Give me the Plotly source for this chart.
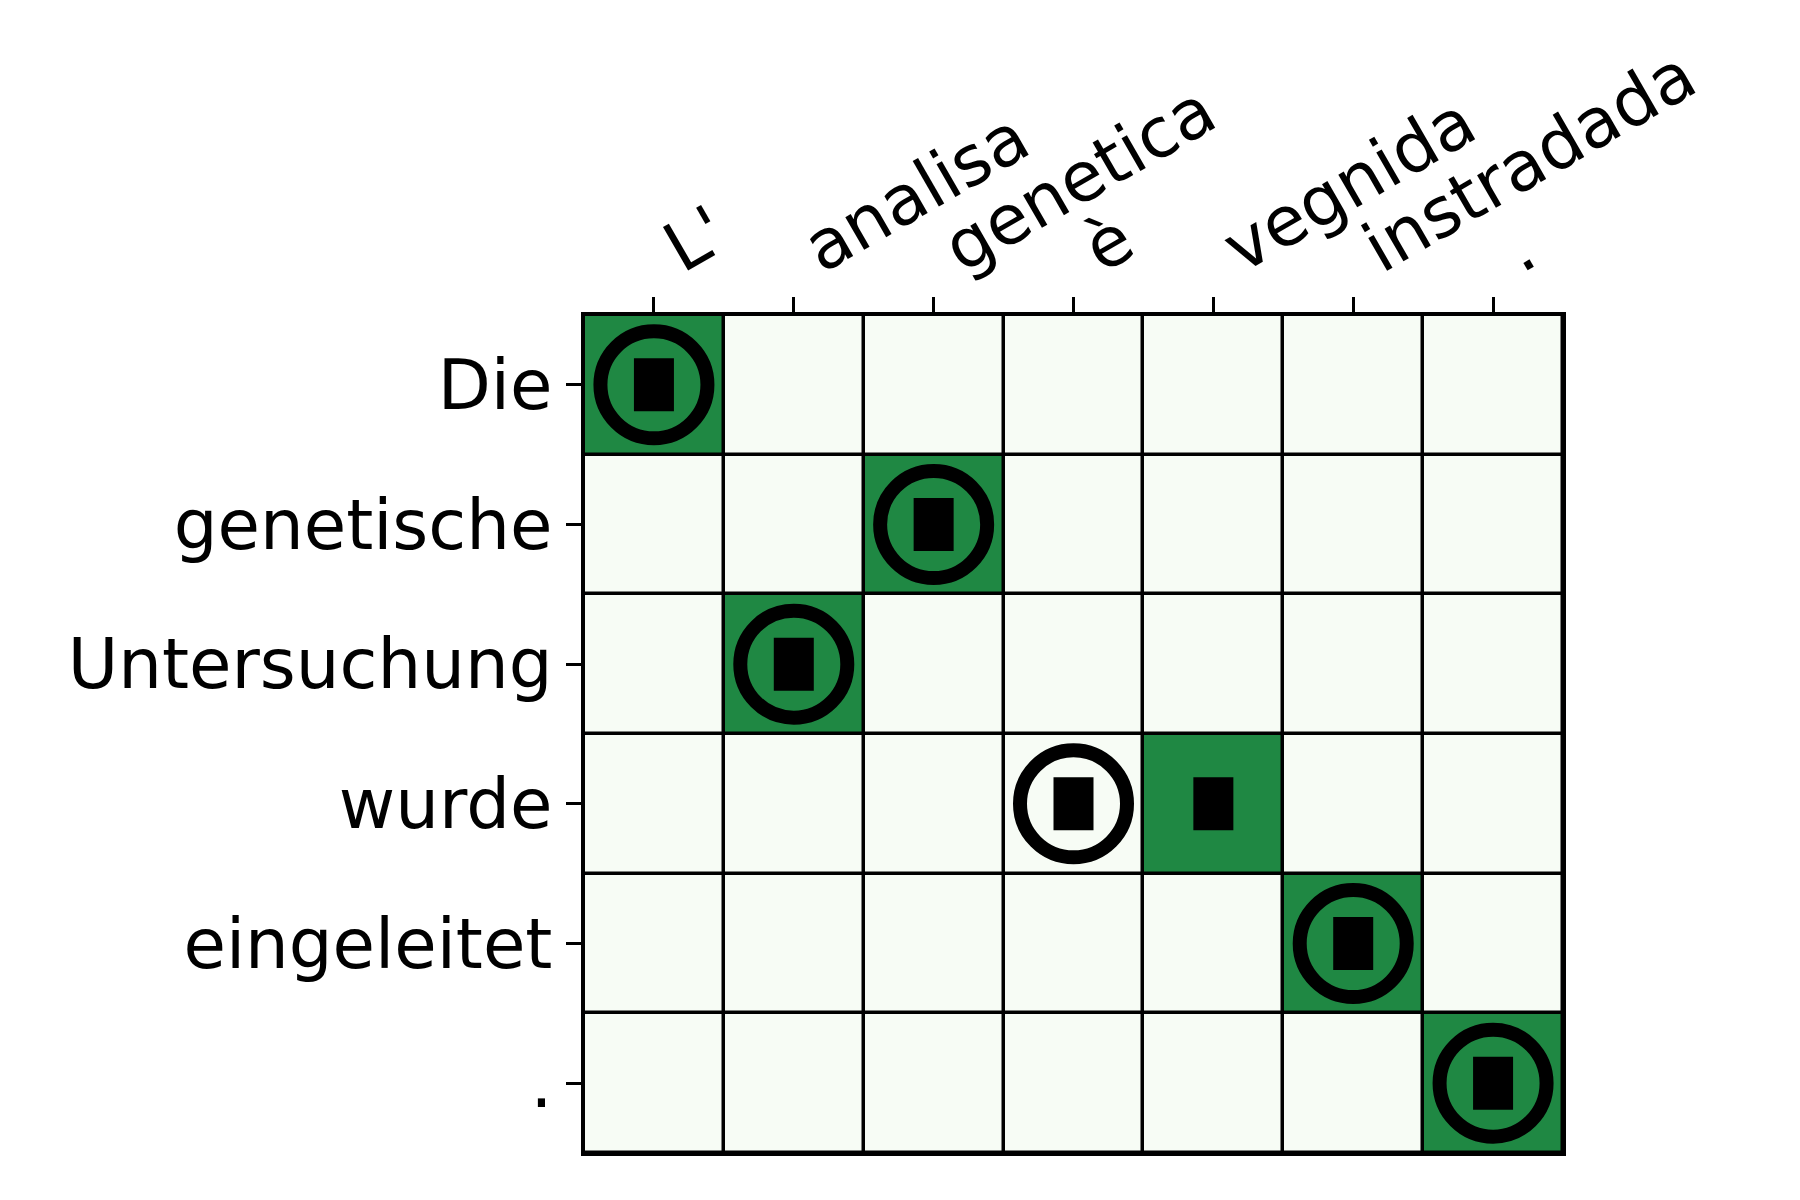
import plotly.graph_objects as go

# Data
src_tokens = ["L'", "analisa", "genetica", "è", "vegnida", "instradada", "."]
tgt_tokens = ["Die", "genetische", "Untersuchung", "wurde", "eingeleitet", "."]

# heatmap alignment matrix (rows = tgt, cols = src)
align_matrix = [
    [1, 0, 0, 0, 0, 0, 0],
    [0, 0, 1, 0, 0, 0, 0],
    [0, 1, 0, 0, 0, 0, 0],
    [0, 0, 0, 0, 1, 0, 0],
    [0, 0, 0, 0, 0, 1, 0],
    [0, 0, 0, 0, 0, 0, 1],
]
# circle alignments (row, col)
circle_rows = [0, 1, 2, 3, 4, 5]
circle_cols = [0, 2, 1, 3, 5, 6]
# rectangle alignments (row, col)
rect_rows = [0, 1, 2, 3, 3, 4, 5]
rect_cols = [0, 2, 1, 3, 4, 5, 6]

LIGHT = "#f7fcf5"
GREEN = "#1f8843"
FONT = "DejaVu Sans"

fig = go.Figure()
fig.add_trace(go.Heatmap(
    z=align_matrix,
    x=list(range(len(src_tokens))),
    y=list(range(len(tgt_tokens))),
    colorscale=[[0, LIGHT], [1, GREEN]],
    zmin=0, zmax=1,
    showscale=False,
    xgap=3.5, ygap=3.5,
    hoverinfo="skip",
))

# rectangles (filled paths)
hw, hh = 0.143, 0.19
rx, ry = [], []
for r, c in zip(rect_rows, rect_cols):
    rx += [c - hw, c + hw, c + hw, c - hw, c - hw, None]
    ry += [r - hh, r - hh, r + hh, r + hh, r - hh, None]
fig.add_trace(go.Scatter(
    x=rx, y=ry, mode="lines", fill="toself", fillcolor="black",
    line=dict(color="black", width=0), hoverinfo="skip", showlegend=False,
))

# circles
fig.add_trace(go.Scatter(
    x=circle_cols, y=circle_rows, mode="markers",
    marker=dict(symbol="circle-open", size=107, color="black",
                line=dict(width=14, color="black")),
    hoverinfo="skip", showlegend=False,
))

fig.update_layout(
    width=1800, height=1200,
    margin=dict(l=584, r=237, t=315, b=47, autoexpand=False),
    paper_bgcolor="white",
    plot_bgcolor="black",
    showlegend=False,
    font=dict(family=FONT, size=69, color="black"),
)
fig.update_xaxes(
    side="top",
    range=[-0.5, len(src_tokens) - 0.5],
    tickmode="array",
    tickvals=list(range(len(src_tokens))),
    ticktext=src_tokens,
    tickangle=-30,
    ticklabelshift=11,
    ticklabelstandoff=-9,
    ticks="outside", ticklen=15, tickwidth=2.5, tickcolor="black",
    showgrid=False, zeroline=False, automargin=False,
    showline=True, mirror=True, linecolor="black", linewidth=2.5,
    tickfont=dict(family=FONT, size=69, color="black"),
)
fig.update_yaxes(
    range=[len(tgt_tokens) - 0.5, -0.5],
    tickmode="array",
    tickvals=list(range(len(tgt_tokens))),
    ticktext=tgt_tokens,
    ticks="outside", ticklen=15, tickwidth=2.5, tickcolor="black",
    showgrid=False, zeroline=False, automargin=False,
    showline=True, mirror=True, linecolor="black", linewidth=2.5,
    tickfont=dict(family=FONT, size=69, color="black"),
)

fig.write_html("out.html", config={"displayModeBar": False},
               post_script="document.body.style.margin='0';")
